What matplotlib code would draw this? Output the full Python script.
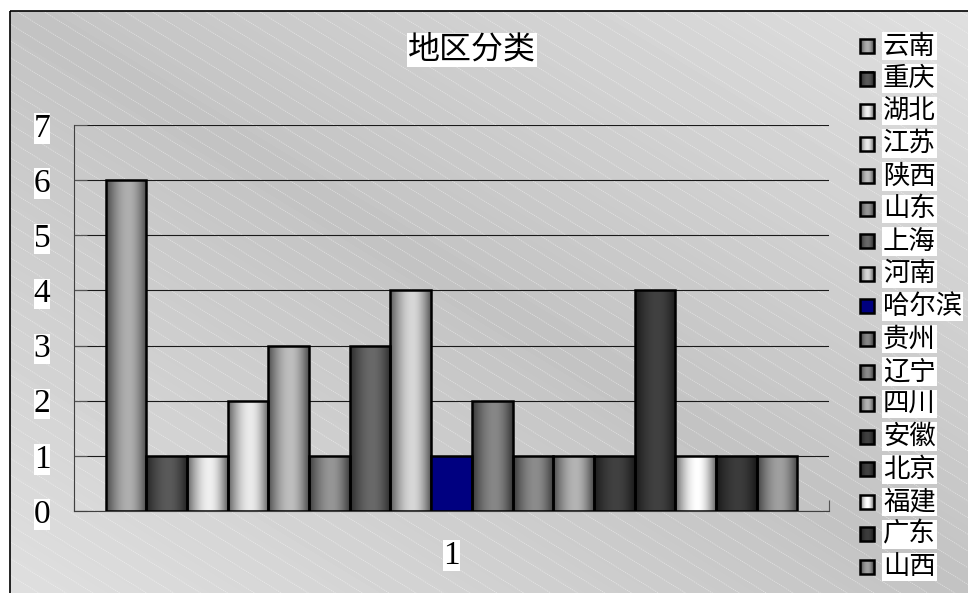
import numpy as np
import matplotlib.pyplot as plt
from matplotlib.patches import Rectangle

plt.rcParams['font.family'] = ['Noto Sans CJK SC', 'DejaVu Sans']

regions = ['云南', '重庆', '湖北', '江苏', '陕西', '山东', '上海', '河南', '哈尔滨',
           '贵州', '辽宁', '四川', '安徽', '北京', '福建', '广东', '山西']
counts = [6, 1, 1, 2, 3, 1, 3, 4, 1, 2, 1, 1, 1, 4, 1, 1, 1]

# peak grey level of each cylinder-shaded bar; None = flat navy fill
shade_levels = [175, 90, 240, 235, 190, 150, 105, 215, None,
                135, 140, 180, 65, 65, 255, 60, 160]
NAVY = '#000080'

W, H = 968, 593


def shade_row(level, n=64):
    t = np.linspace(0, 1, n)
    s = np.where(t < 0.55, t / 0.55, (1 - t) / 0.45)
    f = 0.42 + 0.58 * np.sin(np.pi / 2 * s)
    g = np.clip(level * f / 255.0, 0, 1)
    return np.dstack([g, g, g])


def fill_for(level):
    if level is None:
        return np.array([[[0, 0, 0.5]]])
    return shade_row(level)


fig = plt.figure(figsize=(W / 100, H / 100), dpi=100)

# background layer in pixel coordinates
bg = fig.add_axes([0, 0, 1, 1], zorder=0)
yy, xx = np.mgrid[0:H, 0:W]
xn = (xx - 10) / (W - 10)
yn = (yy - 11) / (H - 11)
val = (195 + 28 * np.abs(xn - yn)) / 255.0
val[(xx < 10) | (yy < 11)] = 1.0
bg.imshow(val, cmap='gray', vmin=0, vmax=1, extent=(0, W, H, 0),
          interpolation='bilinear', aspect='auto')

frame = Rectangle((10, 11), W + 20, H + 20, fill=False, ec='black', lw=1.2, zorder=5)
bg.add_patch(frame)

# faint diagonal stripes
slope = 0.62
xs = np.array([0, W])
for b in np.arange(-slope * W, H + 20, 16.7):
    ln, = bg.plot(xs, slope * xs + b, color='white', alpha=0.45, lw=0.6,
                  linestyle=(0, (1.5, 1)), zorder=2)
    ln.set_clip_path(frame)

# legend, drawn by hand so the markers carry the same shading
for i, (name, level) in enumerate(zip(regions, shade_levels)):
    yc = 46 + i * 32.56
    bg.imshow(fill_for(level), extent=(860, 874, yc + 7, yc - 7),
              aspect='auto', interpolation='bilinear', zorder=3)
    bg.add_patch(Rectangle((860, yc - 7), 14, 14, fill=False, ec='black',
                           lw=1.8, zorder=4))
    bg.text(883, yc, name, ha='left', va='center', fontsize=19,
            bbox=dict(fc='white', ec='none', pad=0.5), zorder=4)

bg.set_xlim(0, W)
bg.set_ylim(H, 0)
bg.axis('off')

fig.text(472 / W, 1 - 50 / H, '地区分类', ha='center', va='center', fontsize=23,
         bbox=dict(fc='white', ec='none', pad=1))

# plot area
ax = fig.add_axes([74 / W, 1 - 511 / H, (829 - 74) / W, (511 - 125) / H], zorder=2)
ax.patch.set_alpha(0)

x = np.arange(len(counts))
bars = ax.bar(x, counts, width=1.0, edgecolor='black', linewidth=1.8, zorder=3)
for patch, level in zip(bars, shade_levels):
    if level is None:
        patch.set_facecolor(NAVY)
        continue
    patch.set_facecolor('none')
    bb = patch.get_bbox()
    im = ax.imshow(shade_row(level), extent=(bb.x0, bb.x1, bb.y0, bb.y1),
                   aspect='auto', interpolation='bilinear', zorder=2.9)
    im.set_clip_path(patch)

x0, x1 = -1.274, len(counts) - 1 + 1.274
ax.set_xlim(x0, x1)
ax.set_ylim(0, 7)

ax.set_yticks(range(8))
ax.yaxis.grid(True, color='#1a1a1a', lw=0.8)
ax.set_axisbelow(True)

ax.set_xticks([(len(counts) - 1) / 2])
ax.set_xticklabels(['1'])
ax.set_xticks([x0, x1], minor=True)

ax.tick_params(axis='y', direction='in', length=9, width=0.8, color='#555555', pad=17)
ax.tick_params(axis='x', which='major', length=0, pad=21)
ax.tick_params(axis='x', which='minor', direction='in', length=8, width=0.8, color='#555555')

for lbl in ax.get_yticklabels() + ax.get_xticklabels():
    lbl.set_fontfamily('Liberation Serif')
    lbl.set_fontsize(24)
    lbl.set_bbox(dict(fc='white', ec='none', pad=0))

for side in ('top', 'right'):
    ax.spines[side].set_visible(False)
for side in ('left', 'bottom'):
    ax.spines[side].set_color('#404040')
    ax.spines[side].set_linewidth(0.8)

fig.savefig('out.png', dpi=100)
